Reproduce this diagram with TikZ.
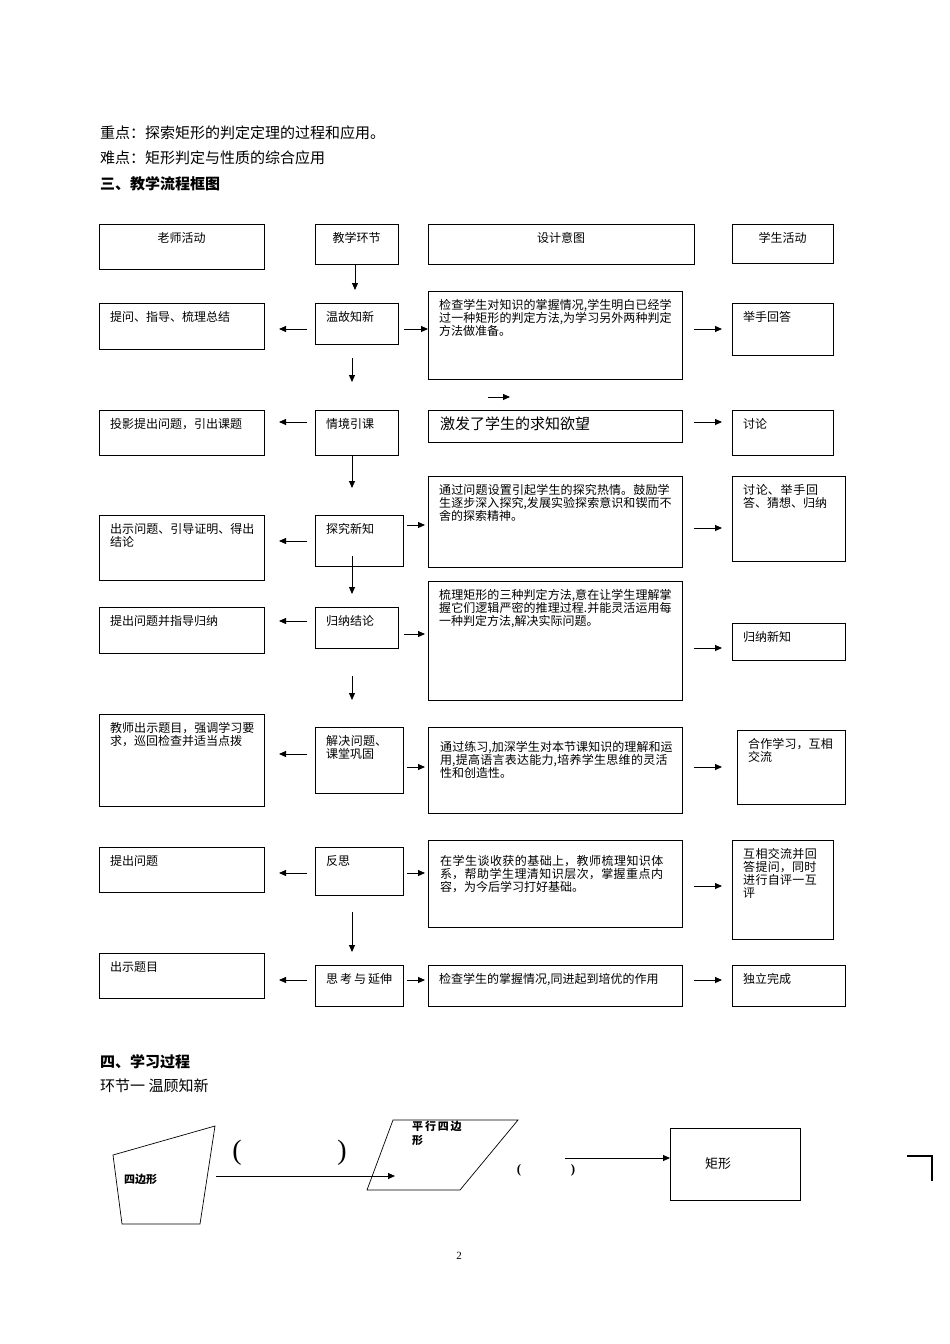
\documentclass[tikz,border=0pt]{standalone}
\usepackage{fontspec}
\usetikzlibrary{arrows.meta}
\setmainfont{Liberation Serif}
\newfontfamily\cjk{Noto Sans CJK SC}
\XeTeXlinebreaklocale "zh"
\XeTeXlinebreakskip=0pt plus 1pt
\begin{document}
\begin{tikzpicture}[x=1pt,y=-1pt,
  bxs/.style={draw,line width=0.9pt},
  txt/.style={anchor=north west,inner sep=0pt,align=left,font=\cjk\fontsize{12}{13}\selectfont},
  arr/.style={-{Triangle[length=7pt,width=6pt]},line width=0.9pt}]
\useasboundingbox (0,0) rectangle (950,1344);
\newcommand{\bx}[6]{\draw[bxs] (#2,#3) rectangle (#4,#5);
  \pgfmathsetmacro{\tw}{#4-#2-20}
  \node[txt,text width=\tw pt] (#1) at (#2+11,#3+8) {#6};}
\newcommand{\hb}[6]{\draw[bxs] (#2,#3) rectangle (#4,#5);
  \node[txt,anchor=north] (#1) at ({(#2+#4)/2},#3+8) {#6};}
\newcommand{\ar}[5]{\coordinate (#1a) at (#2,#3); \coordinate (#1b) at (#4,#5); \draw[arr] (#1a) -- (#1b);}
% headings
\node[txt,font=\cjk\fontsize{15}{17}\selectfont] (h1) at (100,126) {重点：探索矩形的判定定理的过程和应用。};
\node[txt,font=\cjk\fontsize{15}{17}\selectfont] (h2) at (100,151) {难点：矩形判定与性质的综合应用};
\node[txt,font=\cjk\bfseries\fontsize{15}{17}\selectfont] (h3) at (100,176) {三、教学流程框图};
% header row
\hb{t0}{99}{224}{264}{269}{老师活动}
\hb{s0}{315}{224}{398}{264}{教学环节}
\hb{d0}{428}{224}{694}{264}{设计意图}
\hb{p0}{732}{224}{833}{263}{学生活动}
\ar{v0}{355}{265}{355}{290}
% row1
\bx{t1}{99}{303}{264}{349}{提问、指导、梳理总结}
\bx{s1}{315}{303}{398}{344}{温故知新}
\bx{d1}{428}{291}{682}{379}{检查学生对知识的掌握情况,学生明白已经学过一种矩形的判定方法,为学习另外两种判定方法做准备。}
\bx{p1}{732}{303}{833}{355}{举手回答}
\ar{l1}{307}{329}{279}{329}\ar{r1}{404}{329}{428}{329}\ar{q1}{694}{329}{722}{329}
\ar{v1}{352}{358}{352}{382}
\ar{x1}{488}{397}{510}{397}
% row2
\bx{t2}{99}{410}{264}{455}{投影提出问题，引出课题}
\bx{s2}{315}{410}{398}{455}{情境引课}
\draw[bxs] (428,410) rectangle (682,442);
\node[txt,font=\cjk\fontsize{15}{17}\selectfont] (d2) at (440,417) {激发了学生的求知欲望};
\bx{p2}{732}{410}{833}{455}{讨论}
\ar{l2}{307}{422}{279}{422}\ar{q2}{694}{422}{722}{422}
\ar{v2}{352}{455}{352}{488}
% row3
\bx{t3}{99}{515}{264}{580}{出示问题、引导证明、得出结论}
\bx{s3}{315}{515}{403}{566}{探究新知}
\bx{d3}{428}{476}{682}{567}{通过问题设置引起学生的探究热情。鼓励学生逐步深入探究,发展实验探索意识和锲而不舍的探索精神。}
\bx{p3}{732}{476}{845}{561}{讨论、举手回答、猜想、归纳}
\ar{l3}{307}{541}{279}{541}\ar{r3}{407}{525}{425}{525}\ar{q3}{694}{528}{722}{528}
\ar{v3}{352}{556}{352}{594}
% row4
\bx{t4}{99}{607}{264}{653}{提出问题并指导归纳}
\bx{s4}{315}{607}{398}{648}{归纳结论}
\bx{d4}{428}{581}{682}{700}{梳理矩形的三种判定方法,意在让学生理解掌握它们逻辑严密的推理过程.并能灵活运用每一种判定方法,解决实际问题。}
\bx{p4}{732}{623}{845}{660}{归纳新知}
\ar{l4}{307}{621}{279}{621}\ar{r4}{404}{634}{425}{634}\ar{q4}{694}{648}{722}{648}
\ar{v4}{352}{676}{352}{700}
% row5
\bx{t5}{99}{714}{264}{806}{教师出示题目，强调学习要求，巡回检查并适当点拨}
\bx{s5}{315}{727}{403}{793}{解决问题、课堂巩固}
\draw[bxs] (428,727) rectangle (682,813);
\node[txt,text width=234pt] (d5) at (440,741) {通过练习,加深学生对本节课知识的理解和运用,提高语言表达能力,培养学生思维的灵活性和创造性。};
\bx{p5}{737}{730}{845}{804}{合作学习，互相交流}
\ar{l5}{307}{754}{279}{754}\ar{r5}{407}{767}{425}{767}\ar{q5}{694}{767}{722}{767}
% row6
\bx{t6}{99}{847}{264}{892}{提出问题}
\bx{s6}{315}{847}{403}{895}{反思}
\draw[bxs] (428,840) rectangle (682,927);
\node[txt,text width=234pt] (d6) at (440,855) {在学生谈收获的基础上，教师梳理知识体系，帮助学生理清知识层次，掌握重点内容，为今后学习打好基础。};
\bx{p6}{732}{840}{833}{939}{互相交流并回答提问，同时进行自评一互评}
\ar{l6}{307}{873}{279}{873}\ar{r6}{407}{873}{425}{873}\ar{q6}{694}{886}{722}{886}
\ar{v6}{352}{912}{352}{952}
% row7
\bx{t7}{99}{953}{264}{998}{出示题目}
\bx{s7}{315}{965}{403}{1006}{思\,考\,与\,延伸}
\bx{d7}{428}{965}{682}{1006}{检查学生的掌握情况,同进起到培优的作用}
\bx{p7}{732}{965}{845}{1006}{独立完成}
\ar{l7}{307}{980}{279}{980}\ar{r7}{407}{980}{425}{980}\ar{q7}{694}{980}{722}{980}
% part four
\node[txt,font=\cjk\bfseries\fontsize{15}{17}\selectfont] (h4) at (100,1054) {四、学习过程};
\node[txt,font=\cjk\fontsize{15}{17}\selectfont] (h5) at (100,1079) {环节一\ 温顾知新};
\draw[line width=0.7pt] (113,1155) -- (215,1126) -- (200,1224) -- (122,1224) -- cycle;
\node[txt,font=\cjk\bfseries\fontsize{11}{12}\selectfont] (q) at (124,1174) {四边形};
\coordinate (a1) at (216,1176); \coordinate (a2) at (395,1176);
\draw[arr] (a1) -- (a2);
\node[font=\fontsize{28}{30}\selectfont] (p1) at (237,1153) {(};
\node[font=\fontsize{28}{30}\selectfont] (p2) at (342,1153) {)};
\draw[line width=0.7pt] (393,1120) -- (518,1120) -- (460,1190) -- (367,1190) -- cycle;
\node[txt,font=\cjk\bfseries\fontsize{11}{14}\selectfont,text width=72pt] (pq) at (412,1121) {平\,行\,四\,边\\形};
\node[font=\bfseries\fontsize{13}{14}\selectfont] (p3) at (519,1170) {(};
\node[font=\bfseries\fontsize{13}{14}\selectfont] (p4) at (573,1170) {)};
\coordinate (b1) at (565,1158); \coordinate (b2) at (670,1158);
\draw[arr] (b1) -- (b2);
\draw[line width=0.7pt] (670,1128) rectangle (800,1200);
\node[txt,font=\cjk\fontsize{13}{14}\selectfont] (jx) at (705,1157) {矩形};
\draw[line width=2pt] (907,1156) -- (932,1156) -- (932,1181);
\node[font=\fontsize{11}{12}\selectfont] (pg) at (459,1256) {2};
\end{tikzpicture}
\end{document}
